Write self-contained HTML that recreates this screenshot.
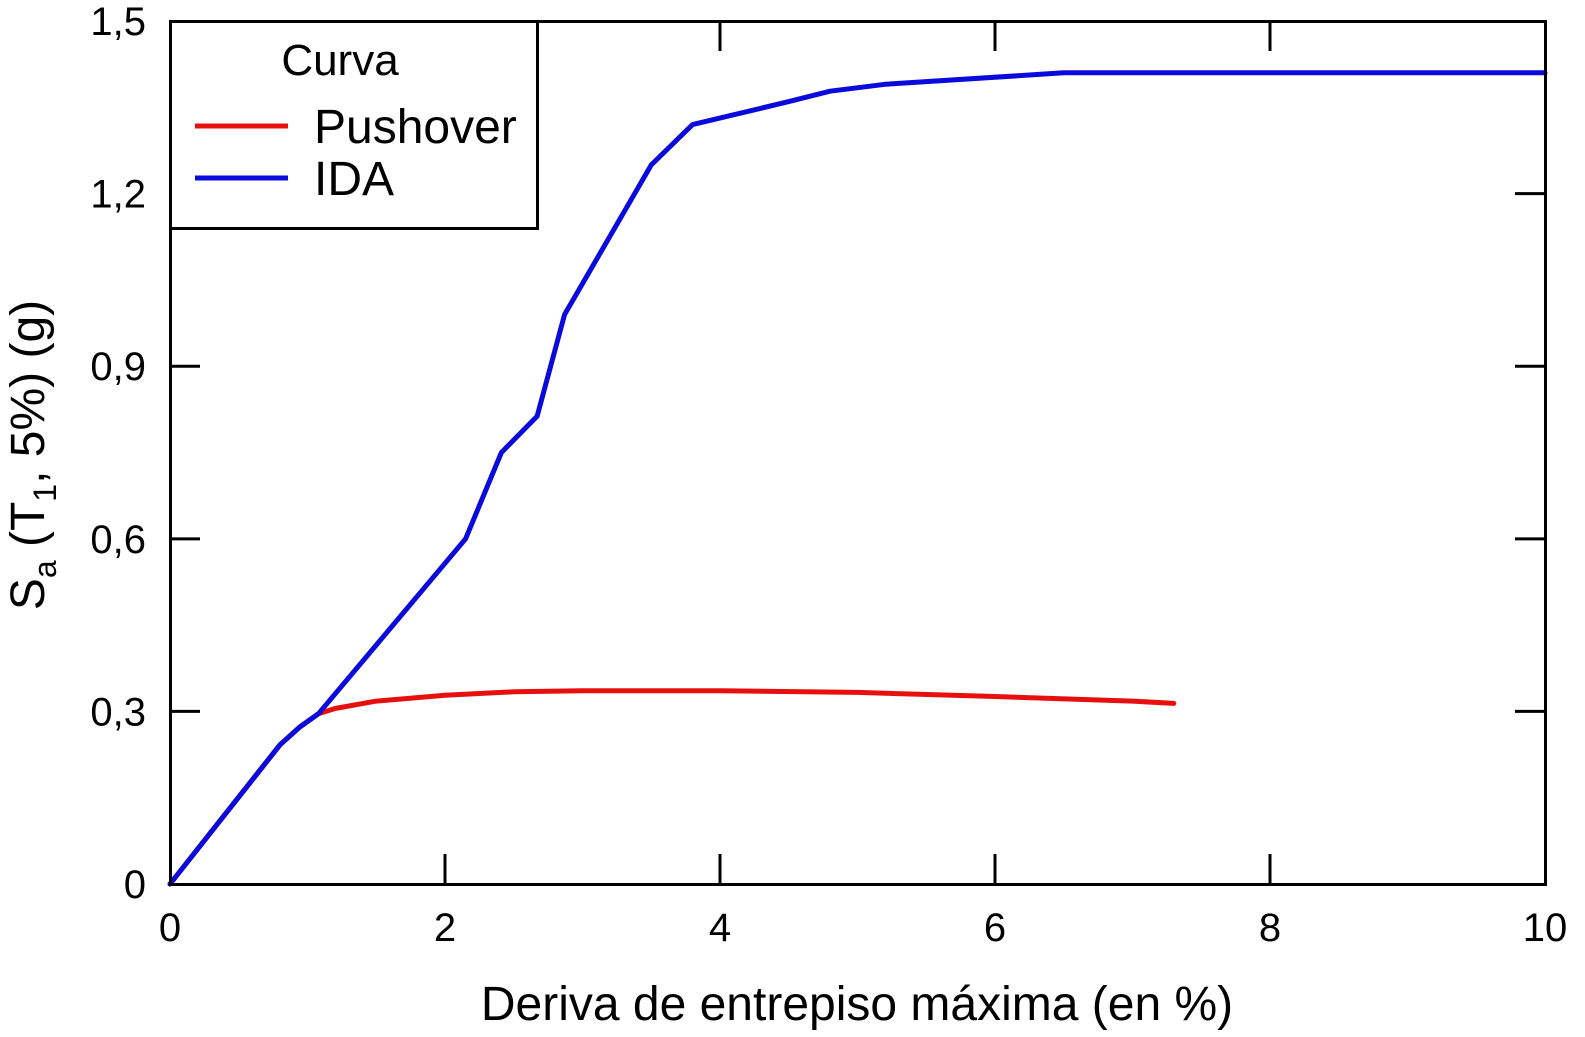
<!DOCTYPE html>
<html><head><meta charset="utf-8"><style>
body{margin:0;background:#fff}
svg{display:block;font-family:"Liberation Sans",Arial,sans-serif}
</style></head><body>
<svg id="chart" width="1585" height="1037" viewBox="0 0 1585 1037">
<g id="ticks"></g>
<g id="series"></g>
<rect x="170.5" y="21.5" width="1375" height="863" fill="none" stroke="#000" stroke-width="3"/>
<g>
<rect x="170.5" y="21.5" width="367" height="207" fill="#fff" stroke="#000" stroke-width="3"/>
<text x="340" y="75" font-size="44" text-anchor="middle">Curva</text>
<line x1="195" y1="126" x2="288" y2="126" stroke="#e8100f" stroke-width="5"/>
<text x="314" y="143" font-size="48">Pushover</text>
<line x1="195" y1="178" x2="288" y2="178" stroke="#0a0adc" stroke-width="5"/>
<text x="314" y="195" font-size="48">IDA</text>
</g>
<text x="857" y="1020" font-size="48" text-anchor="middle">Deriva de entrepiso máxima (en %)</text>
<text transform="translate(44,455) rotate(-90)" font-size="48" text-anchor="middle">S<tspan font-size="32" dy="12">a</tspan><tspan dy="-12"> (T</tspan><tspan font-size="32" dy="12">1</tspan><tspan dy="-12">, 5%) (g)</tspan></text>
</svg>
<script>
const xTicks=[0,2,4,6,8,10];
const xTickLabels=["0","2","4","6","8","10"];
const yTicks=[0,0.3,0.6,0.9,1.2,1.5];
const yTickLabels=["0","0,3","0,6","0,9","1,2","1,5"];
const idaX=[0,0.8,0.945,1.08,2.15,2.41,2.67,2.87,3.5,3.8,4.5,4.8,5.2,6.5,10];
const idaY=[0,0.242,0.273,0.296,0.6,0.75,0.813,0.99,1.25,1.32,1.36,1.378,1.39,1.41,1.41];
const pushX=[0,0.8,0.945,1.08,1.2,1.5,2,2.5,3,4,5,6,7,7.3];
const pushY=[0,0.242,0.273,0.296,0.305,0.318,0.328,0.334,0.336,0.336,0.333,0.326,0.318,0.314];
const NS="http://www.w3.org/2000/svg";
const X=v=>170+137.5*v, Y=v=>884-575.3*v;
const tg=document.getElementById('ticks'), sg=document.getElementById('series');
function mk(tag,attrs,parent){const e=document.createElementNS(NS,tag);for(const k in attrs)e.setAttribute(k,attrs[k]);parent.appendChild(e);return e;}
xTicks.forEach((v,i)=>{
  if(i>0&&i<xTicks.length-1){
    const a=mk('line',{x1:X(v),x2:X(v),y1:884,y2:854,stroke:'#000','stroke-width':3},tg);
    
    
    const b=mk('line',{x1:X(v),x2:X(v),y1:21,y2:51,stroke:'#000','stroke-width':3},tg);
    
    
  }
  const t=mk('text',{x:X(v),y:941,'font-size':40,'text-anchor':'middle'},tg);
  t.textContent=xTickLabels[i];
  
  
});
yTicks.forEach((v,i)=>{
  if(i>0&&i<yTicks.length-1){
    const a=mk('line',{x1:170,x2:200,y1:Y(v),y2:Y(v),stroke:'#000','stroke-width':3},tg);
    
    
    const b=mk('line',{x1:1515,x2:1545,y1:Y(v),y2:Y(v),stroke:'#000','stroke-width':3},tg);
    
    
  }
  const t=mk('text',{x:146,y:Y(v)+14,'font-size':40,'text-anchor':'end'},tg);
  t.textContent=yTickLabels[i];
  
  
});
function line(xs,ys,color,name){
  const d=xs.map((x,i)=>(i?'L':'M')+X(x).toFixed(1)+' '+Y(ys[i]).toFixed(1)).join(' ');
  const p=mk('path',{d:d,fill:'none',stroke:color,'stroke-width':5,'stroke-linejoin':'round','stroke-linecap':'round'},sg);
  
  
}
line(pushX,pushY,'#e8100f','pushover-line');
line(idaX,idaY,'#0a0adc','ida-line');
</script>
</body></html>
